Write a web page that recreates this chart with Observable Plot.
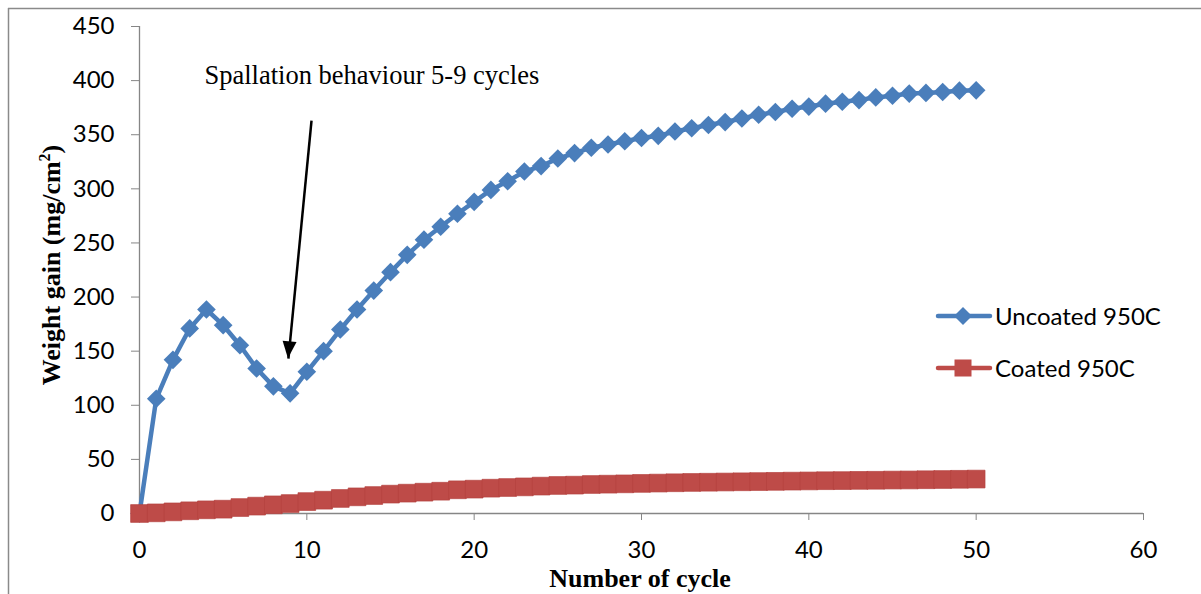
<!DOCTYPE html>
<html>
<head>
<meta charset="utf-8">
<script src="https://cdn.jsdelivr.net/npm/d3@7"></script>
<script src="https://cdn.jsdelivr.net/npm/@observablehq/plot@0.6"></script>
<style>
  html, body { margin: 0; padding: 0; background: #fff; }
  #chart { width: 1201px; height: 594px; overflow: hidden; }
</style>
</head>
<body>
<div id="chart"></div>
<script>
// ---- data ----
const cycles = d3.range(0, 51);
const uncoated = [0, 106, 142, 171, 188.5, 174, 155.5, 134, 117.5, 111,
  131, 150, 170, 188.5, 206, 223, 239, 253, 265, 277,
  288, 299, 307, 316, 321, 328, 333, 338, 341, 344,
  347, 349, 353, 356, 359, 361.7, 365, 368.5, 371, 374,
  376, 378.7, 380.5, 382, 384.5, 386, 388, 388.6, 389.5, 390.7, 391];
const coated = [0, 0.6, 1.5, 2.5, 3.4, 4, 5.5, 6.8, 8, 9.2,
  11, 12.3, 13.9, 15.4, 16.6, 17.9, 18.8, 19.7, 20.6, 21.9,
  22.5, 23.4, 24, 24.6, 25.3, 25.9, 26.2, 26.8, 27.1, 27.4,
  27.8, 28.1, 28.4, 28.7, 28.9, 29.1, 29.3, 29.5, 29.7, 29.9,
  30.1, 30.3, 30.4, 30.6, 30.7, 30.9, 31.0, 31.2, 31.4, 31.6, 31.8];
const seriesNames = ["Uncoated 950C", "Coated 950C"];
const xTicks = [0, 10, 20, 30, 40, 50, 60];
const yTicks = [0, 50, 100, 150, 200, 250, 300, 350, 400, 450];
const xTitle = "Number of cycle";
const yTitle = "Weight gain (mg/cm";
const noteText = "Spallation behaviour 5-9 cycles";
const note = [{x: 3.88, y: 404.5, text: noteText}];
const arrowData = [{x1: 10.28, y1: 363, x2: 8.9, y2: 143}];

const blueData = cycles.map((c, i) => ({cycle: c, value: uncoated[i]}));
const redData = cycles.map((c, i) => ({cycle: c, value: coated[i]}));

const BLUE = "#4A7EBB";
const RED = "#BE4B48";
const GREY = "#868686";

const plot = Plot.plot({
  width: 1201,
  height: 594,
  marginLeft: 139,
  marginRight: 58,
  marginTop: 26,
  marginBottom: 81,
  style: {fontFamily: "Lato, 'Open Sans', sans-serif", fontSize: "24px", color: "black", background: "white", overflow: "visible"},
  x: {domain: [0, 60], label: null},
  y: {domain: [0, 450], label: null},
  marks: [
    Plot.axisX({ticks: xTicks, tickSize: 7, tickPadding: 20, stroke: GREY, fill: "black", label: null, fontSize: 24}),
    Plot.axisY({ticks: yTicks, tickSize: 8, tickPadding: 17, stroke: GREY, fill: "black", label: null, fontSize: 24}),
    Plot.ruleX([0], {stroke: GREY, strokeWidth: 1.3}),
    Plot.ruleY([0], {stroke: GREY, strokeWidth: 1.3}),
    Plot.line(blueData, {x: "cycle", y: "value", stroke: BLUE, strokeWidth: 4.5, strokeLinejoin: "round"}),
    Plot.dot(blueData, {x: "cycle", y: "value", symbol: "diamond2", r: 8.4, fill: BLUE, stroke: "none"}),
    Plot.line(redData, {x: "cycle", y: "value", stroke: RED, strokeWidth: 4.5}),
    Plot.dot(redData, {x: "cycle", y: "value", symbol: "square", r: 10, fill: RED, stroke: "#B5423F", strokeWidth: 0.7}),
    Plot.link(arrowData, {x1: "x1", y1: "y1", x2: "x2", y2: "y2", stroke: "black", strokeWidth: 2.5}),
    Plot.text(note, {x: "x", y: "y", text: "text", textAnchor: "start", fontFamily: "'Liberation Serif', 'Times New Roman', serif", fontSize: 26.5, fill: "black"})
  ]
});

const svg = d3.select(plot);
const sx = plot.scale("x"), sy = plot.scale("y");

// arrow head (filled triangle) at the tip, computed through Plot's scales
arrowData.forEach(a => {
  const tx = sx.apply(a.x2), ty = sy.apply(a.y2);
  const fx = sx.apply(a.x1), fy = sy.apply(a.y1);
  const dx = tx - fx, dy = ty - fy, len = Math.hypot(dx, dy);
  const ux = dx / len, uy = dy / len, px = -uy, py = ux;
  const L = 17, W = 7;
  const bx = tx - ux * L, by = ty - uy * L;
  svg.append("path")
    .attr("d", `M${tx},${ty}L${bx + px * W},${by + py * W}L${bx - px * W},${by - py * W}Z`)
    .attr("fill", "black");
});

// outer chart border (left and top visible)
svg.append("line").attr("x1", 8.5).attr("y1", 8).attr("x2", 8.5).attr("y2", 594).attr("stroke", "#8a8a8a").attr("stroke-width", 1.5);
svg.append("line").attr("x1", 8).attr("y1", 8.5).attr("x2", 1201).attr("y2", 8.5).attr("stroke", "#8a8a8a").attr("stroke-width", 1.5);

// axis titles
svg.append("text")
  .attr("x", 640).attr("y", 587)
  .attr("text-anchor", "middle")
  .attr("font-family", "'Liberation Serif', 'Times New Roman', serif")
  .attr("font-weight", "bold").attr("font-size", 26).attr("fill", "black")
  .text(xTitle);
const yt = svg.append("text")
  .attr("transform", "translate(60,265) rotate(-90)")
  .attr("text-anchor", "middle")
  .attr("font-family", "'Liberation Serif', 'Times New Roman', serif")
  .attr("font-weight", "bold").attr("font-size", 26).attr("fill", "black");
yt.append("tspan").text(yTitle);
yt.append("tspan").attr("font-size", 16).attr("dy", -10).text("2");
yt.append("tspan").attr("dy", 10).text(")");

// legend
const leg = svg.append("g");
const items = [{name: seriesNames[0], color: BLUE, sym: "diamond", y: 316}, {name: seriesNames[1], color: RED, sym: "square", y: 368}];
items.forEach(it => {
  leg.append("line").attr("x1", 938).attr("x2", 990).attr("y1", it.y).attr("y2", it.y)
    .attr("stroke", it.color).attr("stroke-width", 4.5).attr("stroke-linecap", "round");
  if (it.sym === "diamond") {
    leg.append("path").attr("d", `M963,${it.y - 9}L972,${it.y}L963,${it.y + 9}L954,${it.y}Z`).attr("fill", it.color);
  } else {
    leg.append("rect").attr("x", 954.5).attr("y", it.y - 8.5).attr("width", 17).attr("height", 17).attr("fill", it.color);
  }
  leg.append("text").attr("x", 995).attr("y", it.y).attr("dy", "0.36em")
    .attr("text-anchor", "start")
    .attr("font-family", "Lato, 'Open Sans', sans-serif").attr("font-size", 24).attr("fill", "black")
    .text(it.name);
});

document.getElementById("chart").appendChild(plot);
</script>
</body>
</html>
